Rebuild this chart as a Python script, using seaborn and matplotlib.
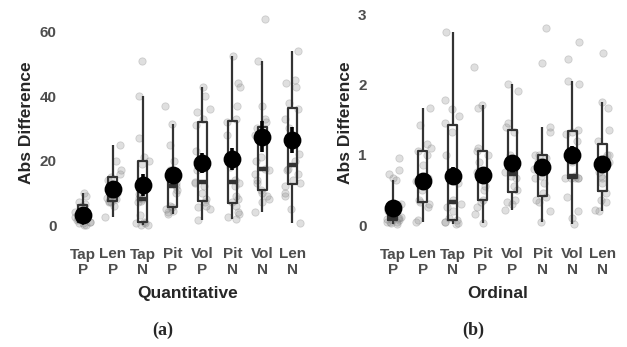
import numpy as np
import pandas as pd
import seaborn as sns
import matplotlib.pyplot as plt

# category labels (two-line ticks)
cats = ["Tap\nP", "Len\nP", "Tap\nN", "Pit\nP", "Vol\nP", "Pit\nN", "Vol\nN", "Len\nN"]

# Quantitative: per-participant abs differences
quant = {
    "Tap\nP": [0, 0, 0.5, 0.5, 1, 1, 1.5, 2, 2.5, 3, 4, 6, 6.5, 7, 9, 10],
    "Len\nP": [2.5, 6, 7, 7, 7.5, 8, 8, 8.5, 9, 10, 12, 14, 15, 16, 17, 20, 25],
    "Tap\nN": [0, 0, 0.5, 0.5, 1, 3, 7, 7.5, 8, 8.5, 9.5, 19, 20, 21, 27, 40, 51],
    "Pit\nP": [3.5, 4, 4.5, 5, 5.5, 6, 10, 11, 12, 13, 14, 16, 17, 20, 25, 31.5, 37],
    "Vol\nP": [1.5, 5, 5.5, 6, 7, 8, 10, 12, 13, 13.5, 17, 20, 23, 31, 33, 35, 36, 40, 43],
    "Pit\nN": [2, 2.5, 3.5, 4, 6, 7, 8, 9, 12, 13, 14, 18, 22, 28, 32, 33, 37, 43, 44, 52.5],
    "Vol\nN": [4, 7, 8, 9, 10, 11, 13, 14, 16, 17, 17.5, 20, 21, 28, 30, 32, 33, 37, 51, 64],
    "Len\nN": [0.5, 5, 9, 10, 12, 13, 14, 16, 17, 17.5, 20, 22, 30, 33, 36, 38, 43, 44, 45, 54],
}
quant_mean = [3.1, 11.2, 12.4, 15.5, 19.3, 20.5, 27.5, 26.5]
quant_se = [1.0, 1.5, 3.3, 2.5, 3.0, 3.5, 4.8, 4.0]

# Ordinal
ordin = {
    "Tap\nP": [0.02, 0.03, 0.05, 0.05, 0.05, 0.07, 0.07, 0.08, 0.1, 0.1, 0.12, 0.15, 0.2, 0.25, 0.28,
               0.3, 0.64, 0.67, 0.72, 0.78, 0.95],
    "Len\nP": [0.05, 0.07, 0.25, 0.3, 0.33, 0.35, 0.5, 0.6, 0.62, 0.67, 0.85, 1.0, 1.05, 1.1, 1.15, 1.42, 1.67],
    "Tap\nN": [0.02, 0.03, 0.05, 0.05, 0.07, 0.1, 0.2, 0.25, 0.3, 0.35, 0.6, 1.0, 1.33, 1.45, 1.55, 1.65, 1.78, 2.75],
    "Pit\nP": [0.03, 0.15, 0.25, 0.33, 0.35, 0.5, 0.55, 0.67, 0.7, 0.75, 0.9, 1.0, 1.05, 1.1, 1.67, 1.7, 2.25],
    "Vol\nP": [0.22, 0.3, 0.33, 0.35, 0.5, 0.55, 0.67, 0.7, 0.75, 0.8, 1.0, 1.33, 1.4, 1.45, 1.9, 2.0],
    "Pit\nN": [0.05, 0.2, 0.33, 0.35, 0.4, 0.45, 0.6, 0.67, 0.7, 0.8, 0.9, 0.95, 1.0, 1.0, 1.33, 1.4, 2.3, 2.8],
    "Vol\nN": [0.02, 0.1, 0.2, 0.4, 0.67, 0.67, 0.67, 0.67, 0.67, 0.7, 0.9, 1.2, 1.3, 1.33, 1.35, 2.0, 2.05, 2.36, 2.6],
    "Len\nN": [0.2, 0.22, 0.33, 0.35, 0.45, 0.6, 0.67, 0.7, 0.75, 0.9, 0.95, 1.0, 1.0, 1.2, 1.35, 1.67, 1.75, 2.45],
}
ord_mean = [0.24, 0.62, 0.70, 0.71, 0.88, 0.83, 1.0, 0.87]
ord_se = [0.07, 0.09, 0.13, 0.10, 0.10, 0.10, 0.12, 0.10]


def long_df(d):
    rows = [(k, v) for k in cats for v in d[k]]
    return pd.DataFrame(rows, columns=["cond", "val"])


sns.set_theme(style="white")
plt.rcParams["font.family"] = ["Liberation Sans", "DejaVu Sans"]
np.random.seed(3)

fig = plt.figure(figsize=(6.27, 3.47), dpi=100)
W, H = 627, 347
ax_a = fig.add_axes([65 / W, (H - 235) / H, 245 / W, 225 / H])
ax_b = fig.add_axes([375 / W, (H - 235) / H, 245 / W, 225 / H])

panels = [
    (ax_a, quant, quant_mean, quant_se, "Quantitative", (-3.1, 66.8), [0, 20, 40, 60], "(a)", 163),
    (ax_b, ordin, ord_mean, ord_se, "Ordinal", (-0.142, 3.058), [0, 1, 2, 3], "(b)", 473),
]

for ax, data, means, ses, xlab, ylim, yt, tag, tx in panels:
    df = long_df(data)
    sns.stripplot(data=df, x="cond", y="val", order=cats, ax=ax, jitter=0.28,
                  color="#8c8c8c", alpha=0.28, size=5.3, linewidth=0.6,
                  edgecolor="#777777", zorder=1)
    sns.boxplot(data=df, x="cond", y="val", order=cats, ax=ax, fill=False,
                width=0.3, color="#333333", linewidth=1.6, showcaps=False,
                showfliers=False, whis=1.5,
                medianprops=dict(linewidth=3.2, color="#333333"))
    sns.pointplot(x=cats, y=means, order=cats, ax=ax, errorbar=None,
                  linestyle="none", color="black", markersize=10.8, zorder=5)
    m = np.array(means)
    s = np.array(ses)
    ax.vlines(np.arange(len(cats)), m - s, m + s, color="black", linewidth=2.6, zorder=4)

    ax.set_xlim(-0.6, 7.6)
    ax.set_ylim(*ylim)
    ax.set_yticks(yt)
    ax.set_xlabel(xlab, fontsize=12.5, fontweight="bold", labelpad=7)
    ax.set_ylabel("Abs Difference", fontsize=12.5, fontweight="bold", labelpad=4)
    ax.tick_params(axis="both", length=0, labelsize=11, labelcolor="#4d4d4d")
    ax.tick_params(axis="y", pad=6)
    ax.tick_params(axis="x", pad=9)
    for lab in ax.get_xticklabels() + ax.get_yticklabels():
        lab.set_fontweight("bold")
        lab.set_linespacing(1.1)
    sns.despine(ax=ax, left=True, bottom=True)
    fig.text(tx / W, (H - 330) / H, tag, ha="center", va="center",
             fontsize=13, fontweight="bold", family="Liberation Serif")

fig.savefig("out.png", dpi=100)
